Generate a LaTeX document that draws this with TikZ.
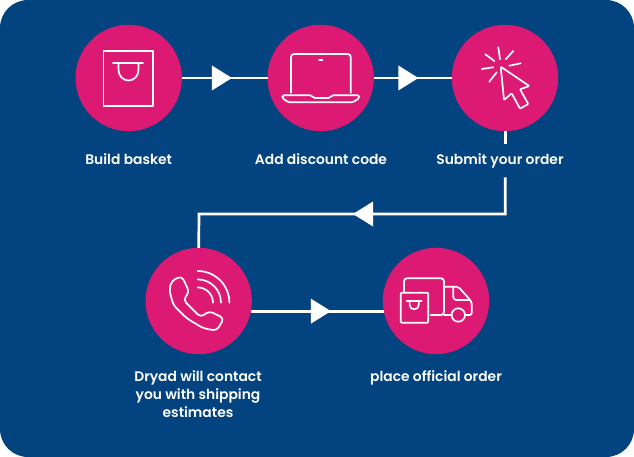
\documentclass[tikz,border=0pt]{standalone}
\usepackage{fontspec}
\setmainfont{Poppins}[BoldFont={Poppins SemiBold}]
\usetikzlibrary{arrows.meta,decorations.markings}
\definecolor{navy}{HTML}{03437F}
\definecolor{pink}{HTML}{DC1A74}
\tikzset{
  disc/.style={circle,fill=pink,minimum size=106.4pt,inner sep=0pt,outer sep=0pt},
  lab/.style={text=white,align=center,font=\fontsize{13.85}{18}\selectfont\bfseries,inner sep=0pt},
  icon/.style={draw=white,line width=1.7pt,line join=round,line cap=round},
  link/.style={draw=white,line width=2.7pt},
  tipat/.style={postaction={decorate,decoration={markings,mark=at position #1 with {\arrow[white,line width=0pt]{Triangle[length=20pt,width=25pt]}}}}}
}
\begin{document}
\begin{tikzpicture}[x=1pt,y=-1pt]
\useasboundingbox (0,0) rectangle (634,457);
\fill[white] (0,0) rectangle (634,457);
\fill[navy,rounded corners=28pt] (0,0) rectangle (634,457);
\node[disc] (a) at (128.7,78) {};
\node[disc] (b) at (320.7,78) {};
\node[disc] (c) at (505,78) {};
\node[disc] (d) at (198.7,301) {};
\node[disc] (e) at (436,301) {};
\node[lab,anchor=base] (la) at (128.7,164.5) {Build basket};
\node[lab,anchor=base] (lb) at (321,164.5) {Add discount code};
\node[lab,anchor=base] (lc) at (500,164.5) {Submit your order};
\node[lab] (ld) at (198,394) {Dryad will contact\\you with shipping\\estimates};
\node[lab,anchor=base] (le) at (436,381) {place official order};
% connectors
\draw[link,tipat=50pt] (a.east) -- (b.west);
\draw[link,tipat=44.5pt] (b.east) -- (c.west);
\coordinate (cg1) at (505.3,144.3);
\coordinate (cg2) at (505.3,177.3);
\coordinate (cd1) at (505.3,214);
\coordinate (cd2) at (199,214);
\draw[link] (c.south -| cg1) -- (cg1);
\draw[link,tipat=189pt] (cg2) -- (cd1) -- (cd2) -- (d.north);
\draw[link,tipat=80pt] (d.-11) -- (e.191);
% bag
\draw[icon] (103.5,51) rectangle (153,106);
\draw[icon] (113,63.3) -- (143,63.3);
\draw[icon] (118.5,63.3) -- (118.5,70) arc[start angle=180,end angle=0,x radius=10,y radius=10.5] -- (138.5,63.3);
% laptop
\draw[icon,rounded corners=3pt] (291,92.7) -- (291,54) -- (350.7,54) -- (350.7,92.7);
\draw[icon] (319,59.7) -- (322.5,59.7);
\draw[icon,rounded corners=1.5pt] (282.3,95.3) -- (311.7,95.3) -- (313.3,98) -- (330,98) -- (331.7,95.3) -- (359.3,95.3) -- (359.3,98) -- (353,102.3) -- (288.3,102.3) -- (282.3,98) -- cycle;
% cursor
\draw[icon,rounded corners=0.8pt] (500.7,66.7) -- (529.3,86) -- (520,89.3) -- (528.3,104) -- (520,108.7) -- (511.7,93.3) -- (504,100) -- cycle;
\draw[icon] (498.3,47.3) -- (500,59.3);
\draw[icon] (513.3,51) -- (505.7,59.3);
\draw[icon] (520.7,63.3) -- (509.3,65.7);
\draw[icon] (485.3,54.3) -- (494.3,61);
\draw[icon] (481.7,69) -- (493.3,67.3);
\draw[icon] (489.3,81.7) -- (496.7,72.3);
% phone
\draw[icon,rounded corners=4pt] (181.7,276) -- (171.7,280.7) -- (169.3,290) -- (173.3,305) -- (186.7,318.3) -- (203.3,328.3) -- (216.7,330.7) -- (224,318.3) -- (209.3,311) -- (200.7,317.3) -- (183.3,300) -- (189.3,291.7) -- cycle;
\draw[icon] (197.7,271) arc[start angle=-90,end angle=0,radius=31.7];
\draw[icon] (197.7,279.4) arc[start angle=-90,end angle=0,radius=23.3];
\draw[icon] (197.7,287.4) arc[start angle=-90,end angle=0,radius=15.3];
% truck
\draw[icon,rounded corners=3pt] (404,291.7) -- (404,278.3) -- (444,278.3) -- (444,315) -- (430.7,315);
\draw[icon,rounded corners=2pt] (444,286.7) -- (458.3,286.7) -- (471.7,301.7) -- (471.7,315) -- (465,315);
\draw[icon] (444,315) -- (451.7,315);
\draw[icon] (458.3,315) circle[radius=6.7];
\draw[icon,rounded corners=3pt] (453.3,286.7) -- (453.3,300) -- (470,300);
\draw[icon,rounded corners=1pt] (400.7,292.7) rectangle (428.3,322.7);
\draw[icon] (406.7,300.7) -- (421.7,300.7);
\draw[icon] (409.6,300.7) -- (409.6,304.8) arc[start angle=180,end angle=0,x radius=4.6,y radius=4.6] -- (418.8,300.7);
\end{tikzpicture}
\end{document}
